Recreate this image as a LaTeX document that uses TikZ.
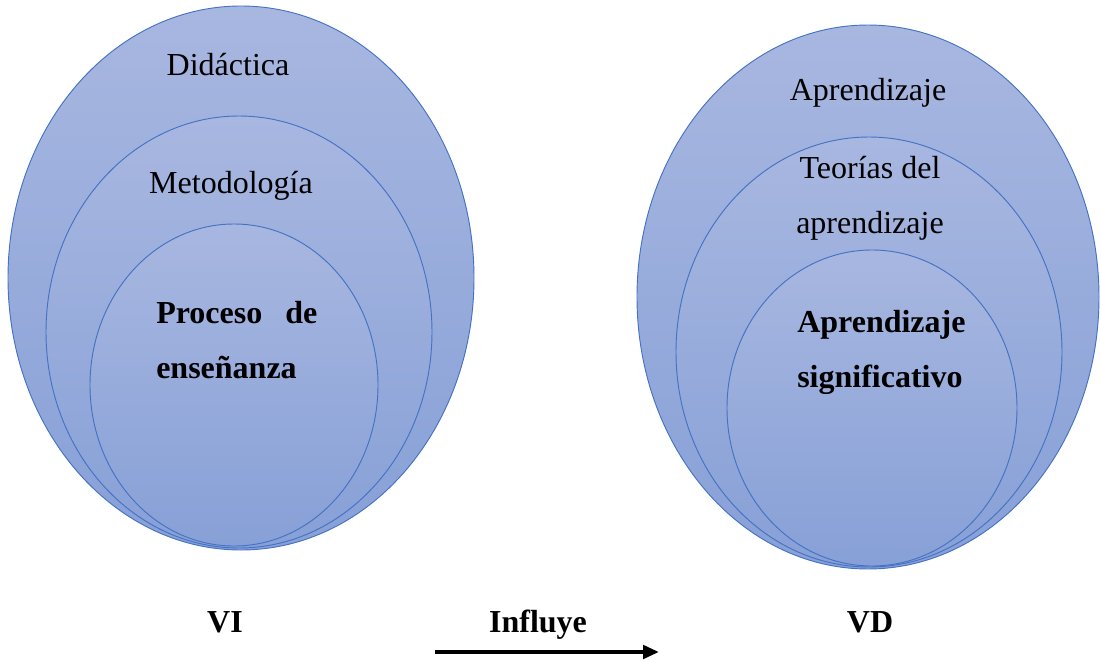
\documentclass[tikz,border=0pt]{standalone}
\usepackage{fontspec}
\setmainfont{Liberation Serif}
\usetikzlibrary{shapes.geometric,arrows.meta}
\definecolor{ringtop}{RGB}{168,183,224}
\definecolor{ringbot}{RGB}{135,160,215}
\definecolor{ringline}{RGB}{68,114,196}
\tikzset{
  ring/.style={ellipse, draw=ringline, line width=0.7pt, top color=ringtop, bottom color=ringbot, inner sep=0pt, outer sep=0pt},
  lbl/.style={anchor=base, inner sep=0pt, font=\fontsize{24}{41.25}\selectfont},
  blbl/.style={inner sep=0pt, font=\fontsize{24}{41.25}\selectfont\bfseries},
}
\begin{document}
\begin{tikzpicture}[x=0.75pt,y=-0.75pt]
\useasboundingbox (0,0) rectangle (1101,661);
% left
\node[ring, minimum width=349.5pt, minimum height=408pt] (lo) at (241,278) {};
\node[ring, minimum width=289.5pt, minimum height=324pt] (lm) at (239,332) {};
\node[ring, minimum width=216pt, minimum height=241.5pt] (li) at (234,385) {};
% right
\node[ring, minimum width=346.5pt, minimum height=408pt] (ro) at (868,297) {};
\node[ring, minimum width=289.5pt, minimum height=322.5pt] (rm) at (869,352) {};
\node[ring, minimum width=217.5pt, minimum height=237pt] (ri) at (872,408) {};
% left texts
\node[lbl] (t1) at (228,75) {Didáctica};
\node[lbl] (t2) at (231,193) {Metodología};
\node[blbl, anchor=base west, text width=120.75pt, align=justify] (t3) at (156,323) {Proceso de\linebreak enseñanza};
% right texts
\node[lbl] (t4) at (868,100) {Aprendizaje};
\node[lbl, align=center] (t5) at (870,233) {Teorías del\\aprendizaje};
\node[blbl, anchor=base west, align=left] (t6) at (797,387) {Aprendizaje\\significativo};
% bottom
\node[blbl, anchor=base] (vi) at (225,632) {VI};
\node[blbl, anchor=base] (inf) at (538,632) {Influye};
\node[blbl, anchor=base] (vd) at (870,632) {VD};
\coordinate (a1) at (435,652);
\coordinate (a2) at (659,652);
\draw[line width=3pt, -{Triangle[length=12pt,width=10pt]}] (a1) -- (a2);
\end{tikzpicture}
\end{document}
